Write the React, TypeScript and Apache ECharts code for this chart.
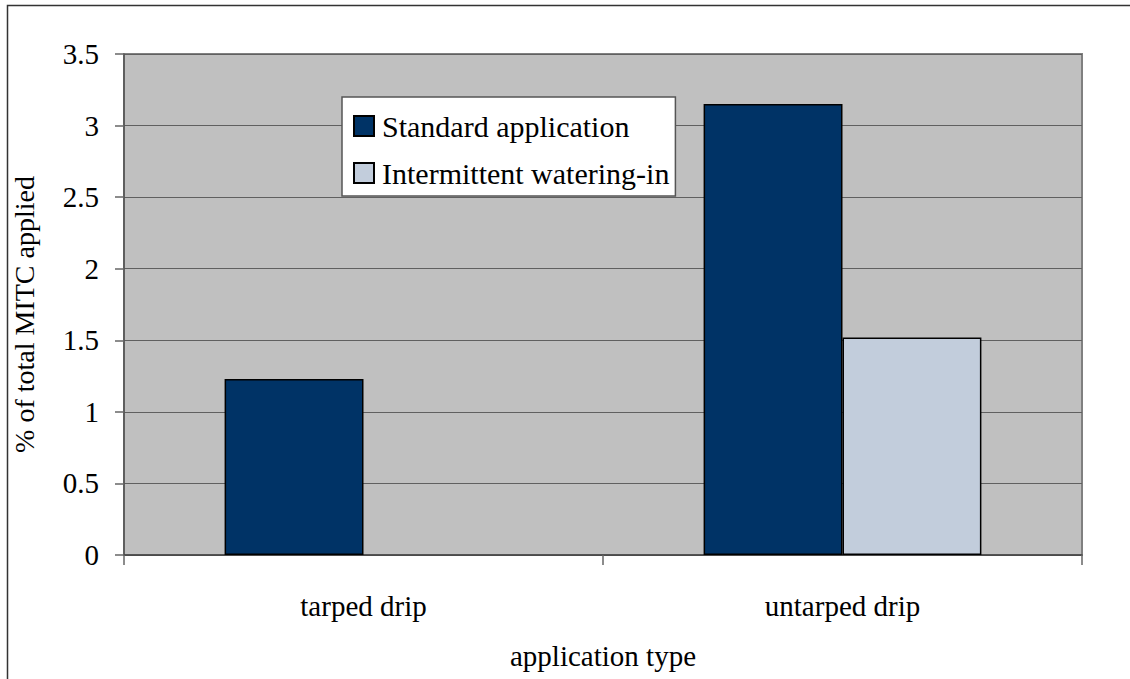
import React, { useEffect, useRef } from "react";
import * as echarts from "echarts";

const categories = ["tarped drip", "untarped drip"];
const standardValues: (number | null)[] = [1.23, 3.15];
const intermittentValues: (number | null)[] = [null, 1.52];
const seriesNames = ["Standard application", "Intermittent watering-in"];
const yTicks = { min: 0, max: 3.5, interval: 0.5 };

const FONT = "'Liberation Serif', serif";

export default function App() {
  const ref = useRef<HTMLDivElement>(null);
  useEffect(() => {
    if (!ref.current) return;
    const chart = echarts.init(ref.current, null, { renderer: "svg" });
    chart.setOption({
      animation: false,
      backgroundColor: "#ffffff",
      textStyle: { fontFamily: FONT, color: "#000" },
      graphic: [
        {
          type: "rect",
          shape: { x: 7.5, y: 5.5, width: 1140, height: 700 },
          style: { fill: "none", stroke: "#333", lineWidth: 1.5 },
          silent: true,
          z: 100,
        },
      ],
      grid: {
        left: 124,
        top: 54,
        right: 48,
        bottom: 124,
        show: true,
        backgroundColor: "#C0C0C0",
        borderColor: "#808080",
        borderWidth: 2,
      },
      legend: {
        orient: "vertical",
        left: 342,
        top: 97,
        padding: [14, 6, 8, 11],
        itemWidth: 20,
        itemHeight: 20,
        itemGap: 17,
        backgroundColor: "#ffffff",
        borderColor: "#555",
        borderWidth: 1.5,
        icon: "rect",
        textStyle: {
          fontFamily: FONT,
          fontSize: 30,
          lineHeight: 30,
          color: "#000",
          padding: [0, 0, 0, 3],
        },
        data: seriesNames,
      },
      xAxis: {
        type: "category",
        data: categories,
        name: "application type",
        nameLocation: "middle",
        nameGap: 86,
        nameTextStyle: { fontFamily: FONT, fontSize: 29, color: "#000" },
        axisLine: { show: true, lineStyle: { color: "#444", width: 1.5 } },
        axisTick: { show: true, length: 10, lineStyle: { color: "#666", width: 1.5 } },
        axisLabel: { fontFamily: FONT, fontSize: 29, color: "#000", margin: 36 },
      },
      yAxis: {
        type: "value",
        min: yTicks.min,
        max: yTicks.max,
        interval: yTicks.interval,
        name: "% of total MITC applied",
        nameLocation: "middle",
        nameRotate: 90,
        nameGap: 86,
        nameTextStyle: {
          fontFamily: FONT,
          fontSize: 28,
          color: "#000",
          padding: [0, 20, 0, 0],
        },
        axisLine: { show: true, lineStyle: { color: "#555", width: 1.5 } },
        axisTick: { show: true, length: 9, lineStyle: { color: "#666", width: 1.5 } },
        axisLabel: { fontFamily: FONT, fontSize: 29, color: "#000", margin: 25 },
        splitLine: { show: true, lineStyle: { color: "#606060", width: 1.2 } },
      },
      series: [
        {
          name: seriesNames[0],
          type: "bar",
          data: standardValues,
          barGap: "0%",
          barCategoryGap: "42%",
          itemStyle: { color: "#003366", borderColor: "#000", borderWidth: 1.5 },
        },
        {
          name: seriesNames[1],
          type: "bar",
          data: intermittentValues,
          barGap: "0%",
          barCategoryGap: "42%",
          itemStyle: { color: "#C2CDDC", borderColor: "#000", borderWidth: 1.5 },
        },
      ],
    });
    return () => chart.dispose();
  }, []);
  return (
    <div
      ref={ref}
      style={{ position: "absolute", left: 0, top: 0, width: 1130, height: 679 }}
    />
  );
}
